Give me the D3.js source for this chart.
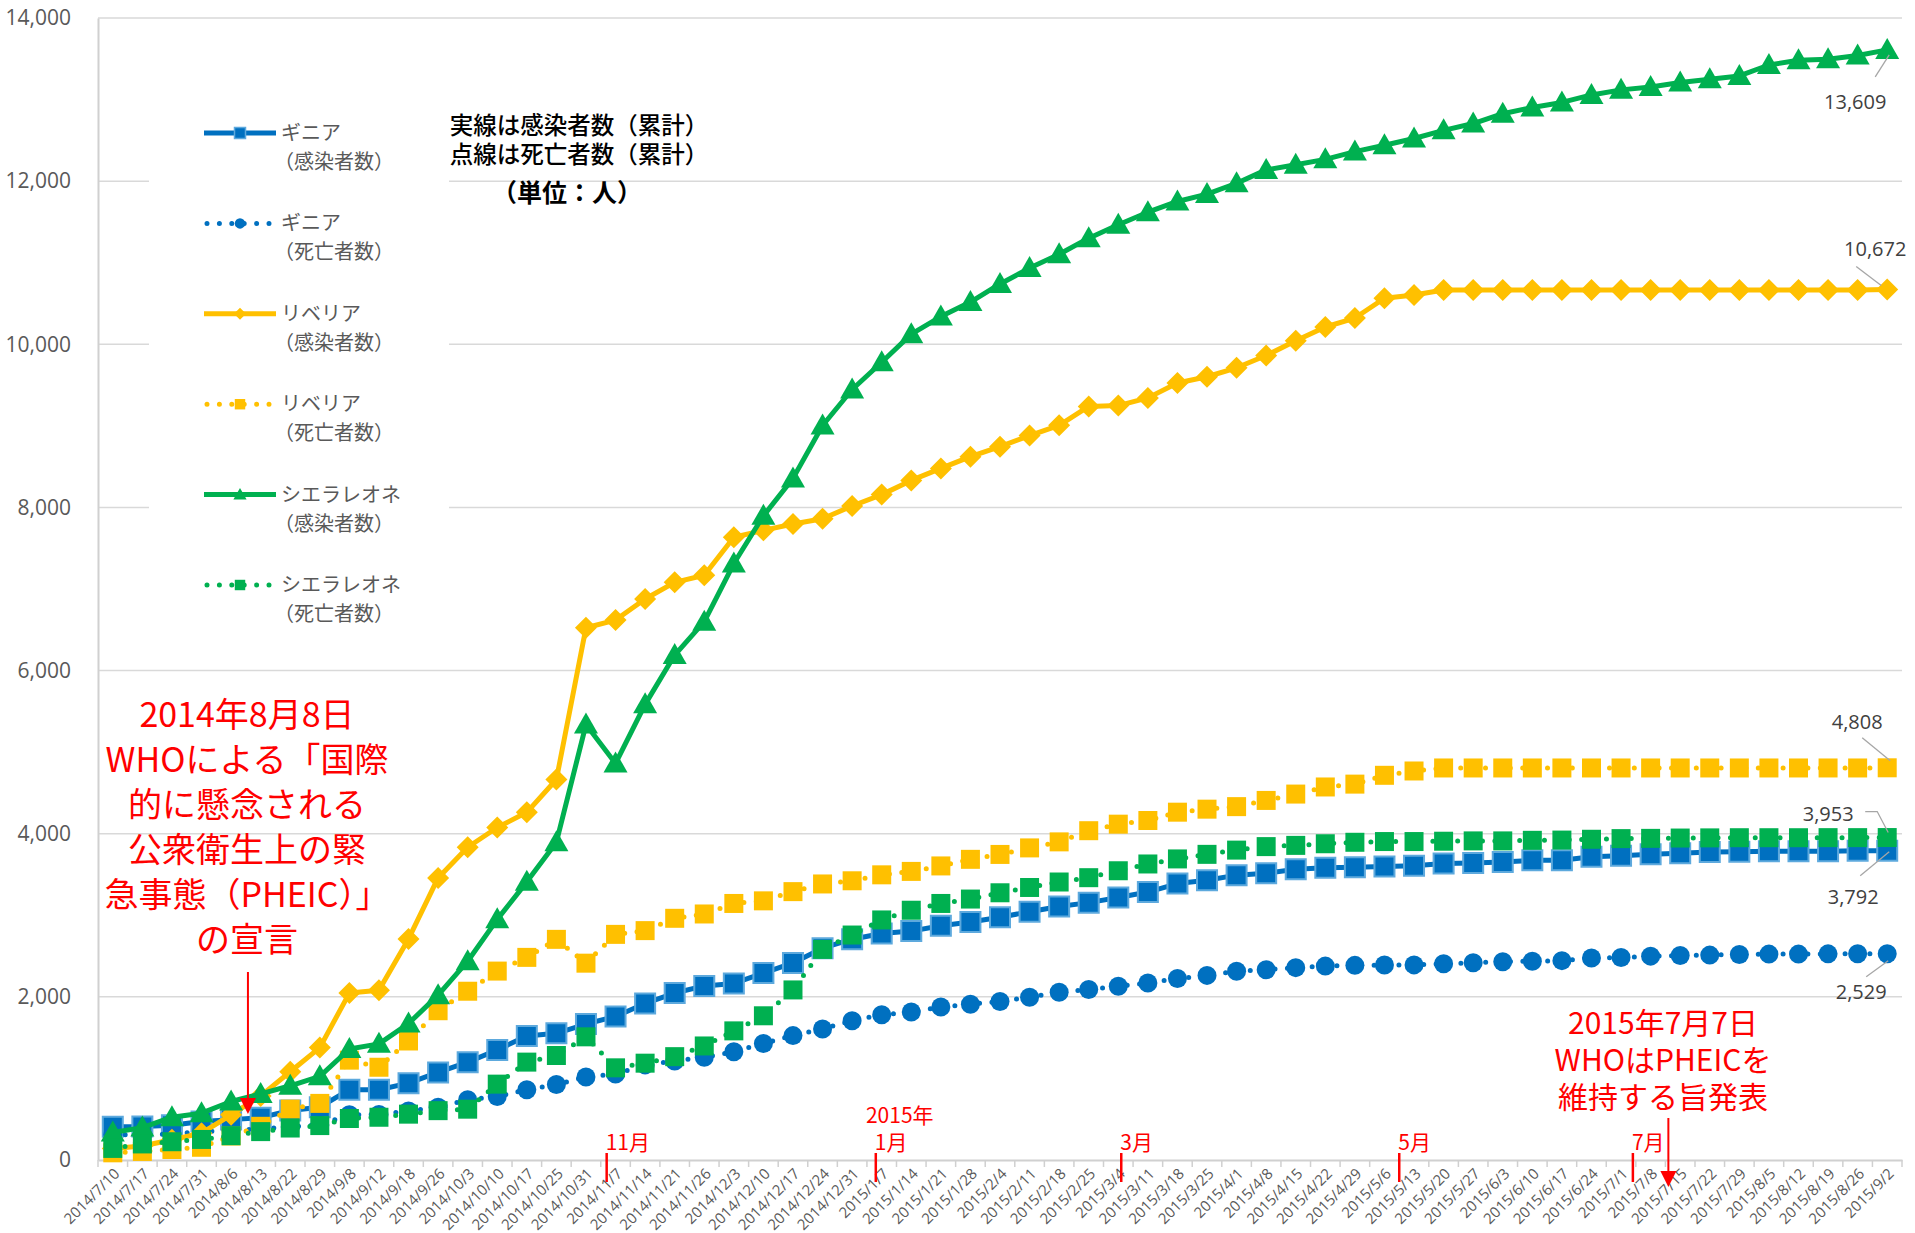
<!DOCTYPE html>
<html>
<head>
<meta charset="utf-8">
<script src="https://cdn.jsdelivr.net/npm/d3@7"></script>
<style>
  body { margin: 0; background: #fff; }
  svg { display: block; font-family: "Noto Sans CJK JP", "Noto Sans", sans-serif; }
</style>
</head>
<body>
<svg class="mysvg"></svg>
<script>
// weekly report dates (category axis)
const dates = [
  "2014/7/10", "2014/7/17", "2014/7/24", "2014/7/31", "2014/8/6", "2014/8/13", "2014/8/22", "2014/8/29",
  "2014/9/8", "2014/9/12", "2014/9/18", "2014/9/26", "2014/10/3", "2014/10/10", "2014/10/17", "2014/10/25",
  "2014/10/31", "2014/11/7", "2014/11/14", "2014/11/21", "2014/11/26", "2014/12/3", "2014/12/10", "2014/12/17",
  "2014/12/24", "2014/12/31", "2015/1/7", "2015/1/14", "2015/1/21", "2015/1/28", "2015/2/4", "2015/2/11",
  "2015/2/18", "2015/2/25", "2015/3/4", "2015/3/11", "2015/3/18", "2015/3/25", "2015/4/1", "2015/4/8",
  "2015/4/15", "2015/4/22", "2015/4/29", "2015/5/6", "2015/5/13", "2015/5/20", "2015/5/27", "2015/6/3",
  "2015/6/10", "2015/6/17", "2015/6/24", "2015/7/1", "2015/7/8", "2015/7/15", "2015/7/22", "2015/7/29",
  "2015/8/5", "2015/8/12", "2015/8/19", "2015/8/26", "2015/9/2"
];

// cumulative counts
const guineaCases = [
  409, 410, 427, 472, 495, 519, 607, 648, 862, 861, 942, 1074, 1199, 1350, 1519, 1553,
  1667, 1760, 1919, 2047, 2134, 2164, 2292, 2416, 2597, 2707, 2776, 2806, 2871, 2917, 2975, 3044,
  3108, 3155, 3219, 3285, 3389, 3429, 3492, 3515, 3565, 3584, 3589, 3597, 3607, 3635, 3641, 3652,
  3674, 3674, 3718, 3729, 3748, 3760, 3775, 3779, 3784, 3786, 3786, 3792, 3792
];
const guineaDeaths = [
  309, 310, 319, 346, 367, 380, 406, 430, 555, 557, 601, 648, 739, 778, 862, 926,
  1018, 1054, 1166, 1214, 1260, 1327, 1428, 1525, 1607, 1708, 1781, 1814, 1876, 1910, 1944, 1995,
  2057, 2091, 2129, 2170, 2224, 2263, 2314, 2333, 2358, 2377, 2386, 2390, 2392, 2407, 2417, 2431,
  2437, 2444, 2476, 2482, 2499, 2506, 2512, 2519, 2524, 2524, 2527, 2529, 2529
];
const liberiaCases = [
  142, 172, 249, 329, 554, 786, 1082, 1378, 2046, 2081, 2710, 3458, 3834, 4076, 4262, 4665,
  6525, 6619, 6878, 7082, 7168, 7635, 7719, 7797, 7862, 8018, 8157, 8331, 8478, 8622, 8745, 8881,
  9007, 9238, 9249, 9343, 9526, 9602, 9712, 9862, 10042, 10212, 10322, 10564, 10604, 10666, 10666, 10666,
  10666, 10666, 10666, 10666, 10666, 10666, 10666, 10666, 10666, 10666, 10666, 10666, 10672
];
const liberiaDeaths = [
  88, 105, 129, 156, 294, 413, 624, 694, 1224, 1137, 1459, 1830, 2069, 2316, 2484, 2705,
  2413, 2766, 2812, 2963, 3016, 3145, 3177, 3290, 3384, 3423, 3496, 3538, 3605, 3686, 3746, 3826,
  3900, 4037, 4117, 4162, 4264, 4301, 4332, 4408, 4486, 4573, 4608, 4716, 4769, 4806, 4806, 4806,
  4806, 4806, 4806, 4806, 4806, 4806, 4806, 4806, 4806, 4806, 4806, 4806, 4808
];
const sierraCases = [
  337, 397, 525, 574, 717, 810, 910, 1026, 1361, 1424, 1673, 2021, 2437, 2950, 3410, 3896,
  5338, 4862, 5586, 6190, 6599, 7312, 7897, 8356, 9004, 9446, 9780, 10124, 10340, 10518, 10740, 10934,
  11103, 11301, 11466, 11619, 11751, 11841, 11974, 12138, 12201, 12267, 12362, 12440, 12523, 12623, 12706, 12827,
  12903, 12965, 13057, 13119, 13155, 13209, 13250, 13290, 13424, 13482, 13494, 13540, 13609
];
const sierraDeaths = [
  142, 197, 224, 252, 298, 348, 392, 422, 509, 524, 562, 605, 623, 930, 1200, 1281,
  1510, 1130, 1187, 1267, 1398, 1583, 1768, 2085, 2582, 2758, 2943, 3062, 3145, 3199, 3276, 3341,
  3408, 3461, 3546, 3629, 3691, 3747, 3799, 3842, 3857, 3877, 3895, 3904, 3904, 3908, 3912, 3912,
  3919, 3922, 3932, 3940, 3943, 3947, 3949, 3951, 3951, 3951, 3952, 3952, 3953
];

const yTicks = [0, 2000, 4000, 6000, 8000, 10000, 12000, 14000];

// month markers on the axis (fractional category index)
const monthMarks = [
  { p: 16.7, label: "11月" },
  { p: 25.8, label: "1月", year: "2015年" },
  { p: 34.1, label: "3月" },
  { p: 43.5, label: "5月" },
  { p: 51.4, label: "7月" },
];

const noteLeft = ["2014年8月8日", "WHOによる「国際", "的に懸念される", "公衆衛生上の緊", "急事態（PHEIC）」", "の宣言"];
const noteRight = ["2015年7月7日", "WHOはPHEICを", "維持する旨発表"];
const noteTop = ["実線は感染者数（累計）", "点線は死亡者数（累計）", "（単位：人）"];

const series = [
  { name: "ギニア", sub: "（感染者数）", values: guineaCases, color: "#0070C0", dotted: false, marker: "square", size: 10, stroke: "#5DA9DD", label: { dx: -34, dy: 53, leader: [[-27, 25], [2, 1]] } },
  { name: "ギニア", sub: "（死亡者数）", values: guineaDeaths, color: "#0070C0", dotted: true, marker: "circle", size: 9.5, label: { dx: -26, dy: 45, leader: [[-21, 23], [1, 7]] } },
  { name: "リベリア", sub: "（感染者数）", values: liberiaCases, color: "#FFC000", dotted: false, marker: "diamond", size: 11, label: { dx: -12, dy: -33, leader: [[-31, -23], [-6, -4]] } },
  { name: "リベリア", sub: "（死亡者数）", values: liberiaDeaths, color: "#FFC000", dotted: true, marker: "square", size: 9.5, label: { dx: -30, dy: -39, leader: [[-25, -30], [3, -7]] } },
  { name: "シエラレオネ", sub: "（感染者数）", values: sierraCases, color: "#00B050", dotted: false, marker: "triangle", size: 12, label: { dx: -32, dy: 59, leader: [[-12, 27], [2, 5]] } },
  { name: "シエラレオネ", sub: "（死亡者数）", values: sierraDeaths, color: "#00B050", dotted: true, marker: "square", size: 9.5, label: { dx: -59, dy: -17, leader: [[-22, -26], [-10, -26], [1, -5]] } },
];

function markerPath(type, s) {
  if (type === "square") return `M${-s},${-s}h${2 * s}v${2 * s}h${-2 * s}Z`;
  if (type === "diamond") return `M0,${-s}L${s},0L0,${s}L${-s},0Z`;
  if (type === "triangle") return `M0,${-s}L${s},${s * 0.75}L${-s},${s * 0.75}Z`;
  return `M${-s},0a${s},${s} 0 1,0 ${2 * s},0a${s},${s} 0 1,0 ${-2 * s},0Z`;
}

const width = 1915, height = 1233;
const margin = { top: 18, right: 13, bottom: 73, left: 98 };

const svg = d3.select(".mysvg").attr("width", width).attr("height", height);

const x = d3.scaleBand().domain(dates).range([margin.left, width - margin.right]).padding(0);
const cx = (d) => x(d) + x.bandwidth() / 2;
const xAt = (p) => margin.left + x.step() * (p + 0.5);
const y = d3.scaleLinear().domain([0, 14000]).range([height - margin.bottom, margin.top]);
const y0 = y(0);

// gridlines
svg.append("g").selectAll("line")
  .data(yTicks.slice(1)).enter().append("line")
  .attr("x1", margin.left).attr("x2", width - margin.right)
  .attr("y1", (d) => y(d)).attr("y2", (d) => y(d))
  .attr("stroke", "#d9d9d9").attr("stroke-width", 1.5);

// y axis
const yAxis = svg.append("g")
  .attr("transform", `translate(${margin.left},0)`)
  .call(d3.axisLeft(y).tickValues(yTicks).tickFormat(d3.format(",")).tickSize(0).tickPadding(27));
yAxis.select(".domain").attr("stroke", "#d0d0d0").attr("stroke-width", 2);
yAxis.selectAll("text").attr("fill", "#595959").style("font-size", "21px").style("font-family", "'Open Sans', sans-serif");

// x axis
const xAxis = svg.append("g")
  .attr("transform", `translate(0,${y0})`)
  .call(d3.axisBottom(x).tickSize(0));
xAxis.select(".domain").attr("stroke", "#d0d0d0").attr("stroke-width", 2);
xAxis.selectAll("text")
  .attr("x", 0).attr("y", 0).attr("dy", "0.35em")
  .attr("transform", "translate(4,11) rotate(-45)")
  .style("text-anchor", "end")
  .style("font-size", "15px")
  .style("font-family", "'Open Sans', sans-serif")
  .attr("fill", "#595959");
svg.append("g").selectAll("line")
  .data(d3.range(dates.length + 1)).enter().append("line")
  .attr("x1", (i) => margin.left + i * x.step()).attr("x2", (i) => margin.left + i * x.step())
  .attr("y1", y0).attr("y2", y0 + 7)
  .attr("stroke", "#d0d0d0").attr("stroke-width", 1.5);

// legend background covers gridlines
svg.append("rect").attr("x", 149).attr("y", 92).attr("width", 300).attr("height", 545).attr("fill", "#fff");

// series
series.forEach((s) => {
  const pts = s.values.map((v, i) => [cx(dates[i]), y(v)]);
  const g = svg.append("g");
  g.append("path")
    .attr("d", d3.line()(pts))
    .attr("fill", "none")
    .attr("stroke", s.color)
    .attr("stroke-width", 5)
    .attr("stroke-linecap", s.dotted ? "round" : "butt")
    .attr("stroke-linejoin", "round")
    .attr("stroke-dasharray", s.dotted ? "0 12.4" : null);
  g.selectAll("path.mk").data(pts).enter().append("path")
    .attr("class", "mk")
    .attr("transform", (d) => `translate(${d[0]},${d[1]})`)
    .attr("d", markerPath(s.marker, s.size))
    .attr("fill", s.color)
    .attr("stroke", s.stroke || "none")
    .attr("stroke-width", s.stroke ? 2 : 0);
});

// end labels
series.forEach((s) => {
  const n = s.values.length - 1;
  const px = cx(dates[n]), py = y(s.values[n]);
  svg.append("path")
    .attr("d", d3.line()(s.label.leader.map((d) => [px + d[0], py + d[1]])))
    .attr("fill", "none").attr("stroke", "#a6a6a6").attr("stroke-width", 1.3);
  svg.append("text")
    .attr("x", px + s.label.dx).attr("y", py + s.label.dy)
    .attr("text-anchor", "middle")
    .attr("fill", "#404040")
    .style("font-size", "20px")
    .style("font-family", "'Open Sans', sans-serif")
    .text(d3.format(",")(s.values[n]));
});

// legend
const legend = svg.append("g").attr("class", "legend");
series.forEach((s, i) => {
  const ly = 133 + i * 90.4;
  const row = legend.append("g");
  if (s.dotted) {
    row.append("line").attr("x1", 207).attr("x2", 270).attr("y1", ly).attr("y2", ly)
      .attr("stroke", s.color).attr("stroke-width", 5).attr("stroke-linecap", "round")
      .attr("stroke-dasharray", "0 12.4");
  } else {
    row.append("line").attr("x1", 204).attr("x2", 276).attr("y1", ly).attr("y2", ly)
      .attr("stroke", s.color).attr("stroke-width", 5);
  }
  row.append("path")
    .attr("transform", `translate(240,${ly})`)
    .attr("d", markerPath(s.marker, s.size * 0.55))
    .attr("fill", s.color)
    .attr("stroke", s.stroke || "none").attr("stroke-width", s.stroke ? 1.5 : 0);
  row.append("text").attr("x", 281).attr("y", ly + 7).attr("fill", "#595959")
    .style("font-size", "20px").text(s.name);
  row.append("text").attr("x", 274).attr("y", ly + 36).attr("fill", "#595959")
    .style("font-size", "20px").text(s.sub);
});

// note top
svg.append("g").selectAll("text").data(noteTop).enter().append("text")
  .attr("x", (d, i) => (i < 2 ? 579 : 567))
  .attr("y", (d, i) => [134, 163, 202][i])
  .attr("text-anchor", "middle")
  .attr("fill", "#000")
  .style("font-size", (d, i) => (i < 2 ? "23.5px" : "25px"))
  .style("font-weight", (d, i) => (i < 2 ? 500 : 700))
  .text((d) => d);

// month markers
monthMarks.forEach((m) => {
  const mx = xAt(m.p);
  svg.append("line").attr("x1", mx).attr("x2", mx).attr("y1", y0 - 7).attr("y2", y0 + 22)
    .attr("stroke", "#ff0000").attr("stroke-width", 2.5);
  svg.append("text").attr("x", mx - 1).attr("y", y0 - 10).attr("fill", "#ff0000")
    .style("font-size", "21px").text(m.label);
  if (m.year) {
    svg.append("text").attr("x", mx + 24).attr("y", y0 - 37).attr("text-anchor", "middle")
      .attr("fill", "#ff0000").style("font-size", "21px").text(m.year);
  }
});

// PHEIC annotations
function arrow(px, yTop, yTip) {
  svg.append("line").attr("x1", px).attr("x2", px).attr("y1", yTop).attr("y2", yTip - 14)
    .attr("stroke", "#ff0000").attr("stroke-width", 2);
  svg.append("path").attr("d", `M${px - 8},${yTip - 16}L${px + 8},${yTip - 16}L${px},${yTip}Z`)
    .attr("fill", "#ff0000");
}

svg.append("g").selectAll("text").data(noteLeft).enter().append("text")
  .attr("x", 247).attr("y", (d, i) => 727 + i * 45)
  .attr("text-anchor", "middle").attr("fill", "#ff0000")
  .style("font-size", "34px").text((d) => d);
arrow(xAt(4.57), 972, 1114);

svg.append("g").selectAll("text").data(noteRight).enter().append("text")
  .attr("x", 1663).attr("y", (d, i) => 1034 + i * 37)
  .attr("text-anchor", "middle").attr("fill", "#ff0000")
  .style("font-size", "30px").text((d) => d);
arrow(xAt(52.6), 1118, 1187);
</script>
</body>
</html>
